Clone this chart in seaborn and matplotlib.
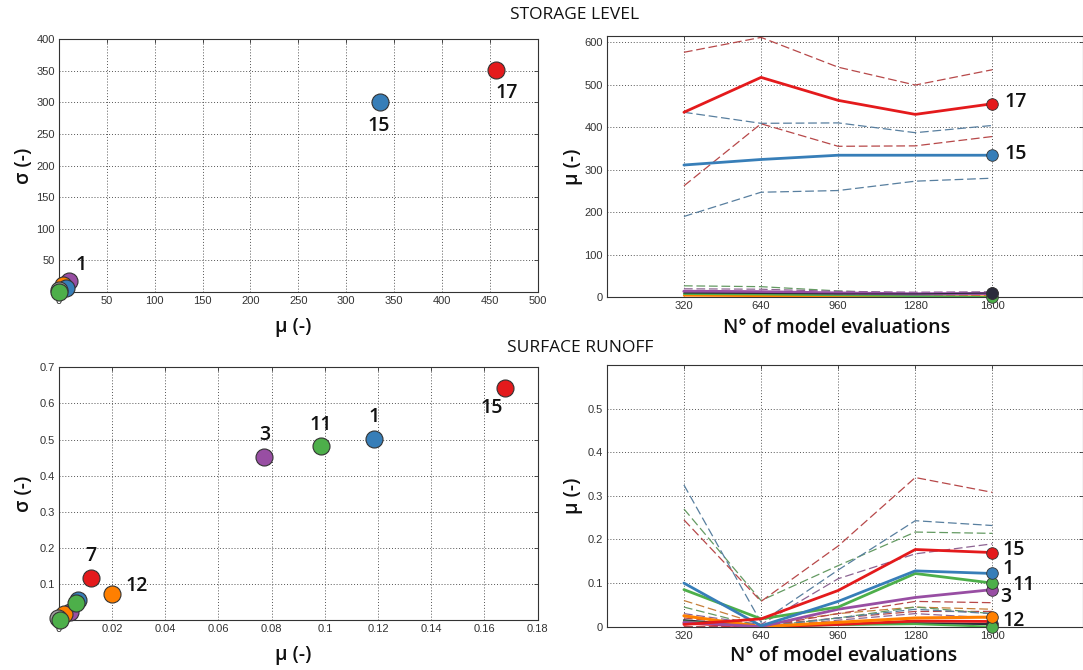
import matplotlib
matplotlib.use("Agg")
import matplotlib.pyplot as plt
import seaborn as sns
import numpy as np
import pandas as pd
from matplotlib import colors as mcolors

sns.set_theme(style="white")
plt.rcParams['font.family'] = ['Open Sans', 'DejaVu Sans']

# ---------------- data ----------------
evals = [320, 640, 960, 1280, 1600]

# Storage level - scatter (mu, sigma)
sl_ids = ['1', 'o', 'b', 'g0', 'g', '15', '17']
sl_mu = [10.8, 4.5, 7.0, 0.0, 0.5, 335, 457]
sl_sigma = [17.5, 10.7, 5.4, 2.0, 0.0, 300, 352]
sl_cols = ['purple', 'orange', 'blue', 'grey', 'green', 'blue', 'red']

# Storage level - convergence of mu
s17_mean = [435, 517, 463, 430, 455]
s17_up = [576, 611, 541, 499, 535]
s17_lo = [262, 408, 355, 356, 378]
s15_mean = [311, 324, 334, 334, 334]
s15_up = [435, 409, 410, 387, 404]
s15_lo = [190, 247, 251, 273, 280]
s1_mean = [14, 13, 10, 8, 9]
s1_up = [20, 19, 14, 12, 13]
s1_lo = [8, 7, 6, 5, 5]
sg_mean = [8, 7, 5, 3, 0]
sg_up = [27, 25, 15, 9, 8]
so_mean = [4, 3, 3, 2, 2]
so_up = [7, 6, 5, 4, 4]
sd_mean = [10, 9, 8, 8, 10]

# Surface runoff - scatter (mu, sigma)
sr_ids = ['b0', 'p0', 'o0', 'g0', 'gr', 'g00', '7', '12', '3', '11', '1', '15']
sr_mu = [0.0072, 0.0040, 0.0020, 0.0063, -0.0005, 0.0003, 0.0121, 0.0199, 0.0773, 0.0986, 0.1186, 0.1678]
sr_sigma = [0.055, 0.023, 0.018, 0.046, 0.005, 0.0, 0.1155, 0.071, 0.451, 0.482, 0.501, 0.642]
sr_cols = ['blue', 'purple', 'orange', 'green', 'grey', 'green', 'red', 'orange', 'purple', 'green', 'blue', 'red']

# Surface runoff - convergence of mu
r15_mean = [0.005, 0.018, 0.083, 0.177, 0.170]
r15_up = [0.245, 0.058, 0.185, 0.342, 0.308]
r15_lo = [0.000, 0.000, 0.030, 0.058, 0.055]
r1_mean = [0.100, 0.002, 0.058, 0.128, 0.122]
r1_up = [0.325, 0.010, 0.130, 0.243, 0.232]
r1_lo = [0.000, 0.000, 0.020, 0.040, 0.030]
r11_mean = [0.085, 0.018, 0.045, 0.122, 0.100]
r11_up = [0.270, 0.060, 0.140, 0.217, 0.214]
r11_lo = [0.045, 0.000, 0.020, 0.045, 0.030]
r3_mean = [0.010, 0.000, 0.040, 0.067, 0.085]
r3_up = [0.030, 0.005, 0.110, 0.167, 0.190]
r3_lo = [0.000, 0.000, 0.015, 0.030, 0.020]
r12_mean = [0.025, 0.000, 0.010, 0.020, 0.022]
r12_up = [0.060, 0.005, 0.030, 0.045, 0.040]
r7_mean = [0.008, 0.000, 0.005, 0.013, 0.012]
r7_up = [0.020, 0.003, 0.020, 0.035, 0.035]
rg_mean = [0.012, 0.000, 0.004, 0.006, 0.000]
rd_mean = [0.015, 0.000, 0.005, 0.008, 0.006]

# ---------------- styling ----------------
PAL = {'red': '#e41a1c', 'blue': '#377eb8', 'green': '#4daf4a',
       'purple': '#984ea3', 'orange': '#ff7f00', 'grey': '#a0a0a0',
       'dark': '#2b2b3b'}


def muted(c, f=0.45):
    r = np.array(mcolors.to_rgb(PAL[c]))
    g = np.array([0.5, 0.5, 0.5])
    return tuple(r * (1 - f) + g * f)


W, H = 1083, 670
fig = plt.figure(figsize=(W / 100, H / 100), dpi=100)


def axes_px(l, t, r, b):
    return fig.add_axes([l / W, 1 - b / H, (r - l) / W, (b - t) / H])


ax_tl = axes_px(59, 39.3, 537.5, 291.7)
ax_tr = axes_px(606.8, 35.7, 1083, 297.3)
ax_bl = axes_px(59, 367.3, 537.5, 620)
ax_br = axes_px(606.8, 365, 1083, 626.7)

TICKFONT = dict(family=['Liberation Sans', 'DejaVu Sans'], size=8, color='#333333')
LABFONT = dict(family=['Open Sans', 'DejaVu Sans'], size=14, color='#111111', weight='semibold')
NUMFONT = dict(family=['Open Sans', 'DejaVu Sans'], size=14, color='#111111', weight='semibold')


def style(ax):
    ax.set_facecolor('white')
    ax.grid(True, linestyle=(0, (1, 2)), color='#555555', linewidth=0.7)
    ax.set_axisbelow(True)
    for s in ax.spines.values():
        s.set_color('#333333')
        s.set_linewidth(0.8)
    ax.tick_params(direction='in', length=3, width=0.6, colors='#333333',
                   top=True, right=True, pad=3)
    for lab in ax.get_xticklabels() + ax.get_yticklabels():
        lab.set_fontfamily(TICKFONT['family'])
        lab.set_fontsize(TICKFONT['size'])
        lab.set_color(TICKFONT['color'])


def scatter_panel(ax, mus, sigmas, cols):
    df = pd.DataFrame({'mu': mus, 'sigma': sigmas, 'c': cols})
    for i, row in df.iterrows():
        sns.scatterplot(x=[row['mu']], y=[row['sigma']], ax=ax, s=150,
                        color=PAL[row['c']], edgecolor='#333333', linewidth=0.8,
                        zorder=3 + i, clip_on=False, legend=False)


def conv_lines(ax, mean, col, ups=(), marker=True, lw=2.0, z=4):
    for u in ups:
        sns.lineplot(x=evals, y=u, ax=ax, color=muted(col), linewidth=0.9,
                     linestyle=(0, (7, 3)), zorder=2, legend=False)
    sns.lineplot(x=evals, y=mean, ax=ax, color=PAL[col], linewidth=lw,
                 zorder=z, legend=False)
    if marker:
        sns.scatterplot(x=[evals[-1]], y=[mean[-1]], ax=ax, s=70, color=PAL[col],
                        edgecolor='#333333', linewidth=0.6, zorder=z + 5,
                        clip_on=False, legend=False)


# ---------- top-left: storage scatter ----------
ax = ax_tl
scatter_panel(ax, sl_mu, sl_sigma, sl_cols)
ax.set_xlim(0, 500)
ax.set_ylim(0, 400)
ax.set_xticks(np.arange(0, 501, 50))
ax.set_yticks(np.arange(50, 401, 50))
ax.annotate('17', (sl_mu[6], sl_sigma[6]), xytext=(10, -23), textcoords='offset pixels',
            ha='center', va='center', **NUMFONT)
ax.annotate('15', (sl_mu[5], sl_sigma[5]), xytext=(-1, -24), textcoords='offset pixels',
            ha='center', va='center', **NUMFONT)
ax.annotate('1', (sl_mu[0], sl_sigma[0]), xytext=(12, 16), textcoords='offset pixels',
            ha='center', va='center', **NUMFONT)
ax.set_xlabel('μ (-)', **LABFONT)
ax.set_ylabel('σ (-)', **LABFONT)
ax.xaxis.set_label_coords(0.49, -0.10)
ax.yaxis.set_label_coords(-0.052, 0.5)
style(ax)

# ---------- top-right: storage convergence ----------
ax = ax_tr
conv_lines(ax, so_mean, 'orange', ups=[so_up], marker=False, lw=1.5)
conv_lines(ax, sg_mean, 'green', ups=[sg_up], lw=1.5)
conv_lines(ax, s1_mean, 'purple', ups=[s1_up, s1_lo], lw=2.2)
conv_lines(ax, sd_mean, 'dark', marker=True, lw=0.8)
conv_lines(ax, s15_mean, 'blue', ups=[s15_up, s15_lo], lw=2.0)
conv_lines(ax, s17_mean, 'red', ups=[s17_up, s17_lo], lw=2.0)
ax.set_xlim(0, 1976)
ax.set_ylim(0, 615)
ax.set_xticks(evals)
ax.set_yticks(np.arange(0, 601, 100))
ax.annotate('17', (evals[-1], s17_mean[-1]), xytext=(12, 2), textcoords='offset pixels',
            ha='left', va='center', **NUMFONT)
ax.annotate('15', (evals[-1], s15_mean[-1]), xytext=(12, 1), textcoords='offset pixels',
            ha='left', va='center', **NUMFONT)
ax.set_xlabel('N° of model evaluations', **LABFONT)
ax.set_ylabel('μ (-)', **LABFONT)
ax.xaxis.set_label_coords(0.483, -0.08)
ax.yaxis.set_label_coords(-0.05, 0.5)
style(ax)

# ---------- bottom-left: runoff scatter ----------
ax = ax_bl
scatter_panel(ax, sr_mu, sr_sigma, sr_cols)
ax.set_xlim(0, 0.18)
ax.set_ylim(0, 0.7)
ax.set_xticks(np.arange(0, 0.181, 0.02))
ax.set_xticklabels(['0', '0.02', '0.04', '0.06', '0.08', '0.1', '0.12', '0.14', '0.16', '0.18'])
ax.set_yticks(np.arange(0.1, 0.71, 0.1))
ax.set_yticklabels(['0.1', '0.2', '0.3', '0.4', '0.5', '0.6', '0.7'])
ann = {'15': (11, -13, 20), '1': (10, 0, -22), '11': (9, 0, -21), '3': (8, 0, -22),
       '7': (6, 0, -22), '12': (7, 25, -8)}
for k, (idx, dx, dy) in ann.items():
    ax.annotate(k, (sr_mu[idx], sr_sigma[idx]), xytext=(dx, -dy), textcoords='offset pixels',
                ha='center', va='center', **NUMFONT)
ax.set_xlabel('μ (-)', **LABFONT)
ax.set_ylabel('σ (-)', **LABFONT)
ax.xaxis.set_label_coords(0.49, -0.10)
ax.yaxis.set_label_coords(-0.052, 0.5)
style(ax)

# ---------- bottom-right: runoff convergence ----------
ax = ax_br
conv_lines(ax, rd_mean, 'dark', marker=True, lw=1.5)
conv_lines(ax, rg_mean, 'green', marker=True, lw=1.5)
conv_lines(ax, r7_mean, 'red', ups=[r7_up], marker=False, lw=2.0)
conv_lines(ax, r12_mean, 'orange', ups=[r12_up], lw=2.2)
conv_lines(ax, r3_mean, 'purple', ups=[r3_up, r3_lo], lw=2.0)
conv_lines(ax, r11_mean, 'green', ups=[r11_up, r11_lo], lw=2.0)
conv_lines(ax, r1_mean, 'blue', ups=[r1_up, r1_lo], lw=2.0)
conv_lines(ax, r15_mean, 'red', ups=[r15_up, r15_lo], lw=2.0)
ax.set_xlim(0, 1976)
ax.set_ylim(0, 0.6)
ax.set_xticks(evals)
ax.set_yticks(np.arange(0, 0.51, 0.1))
ax.set_yticklabels(['0', '0.1', '0.2', '0.3', '0.4', '0.5'])
rann = [('15', r15_mean, 10, 3), ('1', r1_mean, 10, 4), ('11', r11_mean, 20, -2),
        ('3', r3_mean, 8, -7), ('12', r12_mean, 10, -4)]
for k, arr, dx, dy in rann:
    ax.annotate(k, (evals[-1], arr[-1]), xytext=(dx, dy), textcoords='offset pixels',
                ha='left', va='center', **NUMFONT)
ax.set_xlabel('N° of model evaluations', **LABFONT)
ax.set_ylabel('μ (-)', **LABFONT)
ax.xaxis.set_label_coords(0.497, -0.075)
ax.yaxis.set_label_coords(-0.05, 0.5)
style(ax)

# ---------- section titles ----------
fig.text(575 / W, 1 - 15 / H, 'STORAGE LEVEL', ha='center', va='center',
         family=['Open Sans', 'DejaVu Sans'], size=12.5, color='#111111')
fig.text(580 / W, 1 - 348 / H, 'SURFACE RUNOFF', ha='center', va='center',
         family=['Open Sans', 'DejaVu Sans'], size=12.5, color='#111111')

fig.savefig('out.png', dpi=100, facecolor='white')
